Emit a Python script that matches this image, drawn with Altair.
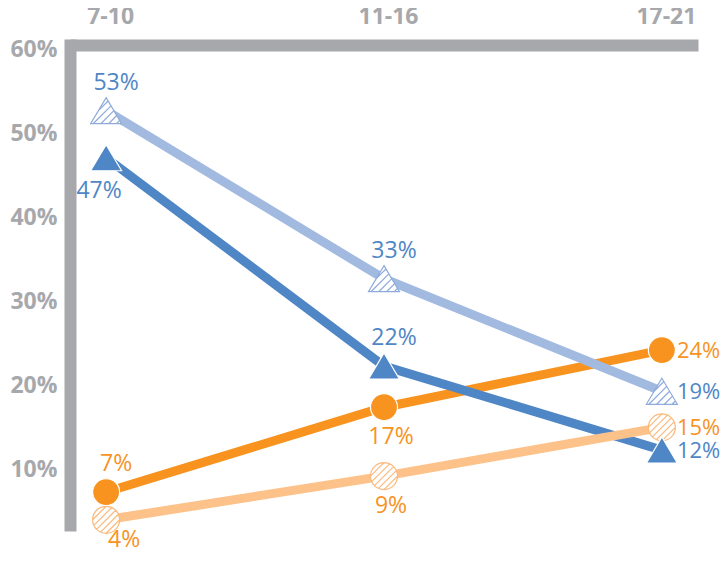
import math
import altair as alt
import pandas as pd

# ---------------- data ----------------
categories = ["7-10", "11-16", "17-21"]
series_names = ["Orange solid", "Blue solid", "Orange hatched", "Blue hatched"]
orange_solid = [0.073, 0.174, 0.242]
blue_solid = [0.471, 0.223, 0.123]
orange_hatched = [0.040, 0.092, 0.150]
blue_hatched = [0.527, 0.327, 0.193]
label_place = {
    "Orange solid": ["above", "below", "right"],
    "Blue solid": ["belowleft", "above", "right"],
    "Orange hatched": ["bottom", "below", "right"],
    "Blue hatched": ["above", "above", "right"],
}
y_ticks = [0.1, 0.2, 0.3, 0.4, 0.5, 0.6]

values = {
    "Orange solid": orange_solid,
    "Blue solid": blue_solid,
    "Orange hatched": orange_hatched,
    "Blue hatched": blue_hatched,
}
rows = []
for s in series_names:
    for c, v, p in zip(categories, values[s], label_place[s]):
        rows.append({"series": s, "cat": c, "value": v, "pos": p})
df = pd.DataFrame(rows)

# ---------------- style ----------------
GRAY = "#a7a8ac"
ORANGE = "#f7931e"
BLUE = "#4f86c6"
LORANGE = "#fdc28a"
LBLUE = "#a2bae0"
HATCH_BLUE = "#8eabdc"
HATCH_ORANGE = "#fbb97c"
TEXT_BLUE = "#4f86c6"
TEXT_ORANGE = "#f7931e"
FONT = "Open Sans"


def hatch_segments(poly, cs):
    segs = []
    for c in cs:
        pts = []
        n = len(poly)
        for i in range(n):
            (x1, y1), (x2, y2) = poly[i], poly[(i + 1) % n]
            f1, f2 = x1 + y1 - c, x2 + y2 - c
            if (f1 <= 0 < f2) or (f2 <= 0 < f1):
                t = f1 / (f1 - f2)
                pts.append((x1 + t * (x2 - x1), y1 + t * (y2 - y1)))
        if len(pts) == 2:
            (a, b), (d, e) = pts
            segs.append(f"M{a:.3f},{b:.3f}L{d:.3f},{e:.3f}")
    return "".join(segs)


TRI = [(0.0, -0.84), (1.0, 0.84), (-1.0, 0.84)]
tri_path = "M0,-0.84L1,0.84L-1,0.84Z"
tri_hatch = tri_path + hatch_segments(TRI, [-0.5, 0.0, 0.5, 1.0, 1.5])

circ_path = "M-1,0A1,1,0,1,1,1,0A1,1,0,1,1,-1,0Z"
circ_poly = [(math.cos(2 * math.pi * k / 90), math.sin(2 * math.pi * k / 90)) for k in range(90)]
circ_hatch = circ_path + hatch_segments(circ_poly, [-1.0, -0.5, 0.0, 0.5, 1.0])

TRI_SIZE = 961
CIRC_SIZE = 729

x_enc = alt.X(
    "cat:N",
    sort=categories,
    scale=alt.Scale(type="point", padding=0.13),
    axis=alt.Axis(
        orient="top", title=None, ticks=False, tickSize=0, grid=False,
        domainWidth=12, domainColor=GRAY, labelAngle=0, labelPadding=17,
        labelOffset=4, labelFont=FONT, labelFontWeight="bold",
        labelFontSize=23, labelColor=GRAY,
    ),
)
y_enc = alt.Y(
    "value:Q",
    scale=alt.Scale(domain=[0.0338, 0.6052], nice=False, zero=False),
    axis=alt.Axis(
        values=y_ticks, format=".0%", title=None, ticks=False, tickSize=0,
        grid=False, domainWidth=12, domainColor=GRAY, domainCap="square",
        labelPadding=13, labelFont=FONT, labelFontWeight="bold",
        labelFontSize=23, labelColor=GRAY,
    ),
)

base = alt.Chart(df).encode(x=x_enc, y=y_enc)

line_colors = {
    "Orange solid": ORANGE,
    "Blue solid": BLUE,
    "Orange hatched": LORANGE,
    "Blue hatched": LBLUE,
}
layers = []
for s in ["Orange solid", "Blue solid", "Orange hatched", "Blue hatched"]:
    layers.append(
        base.transform_filter(alt.datum.series == s).mark_line(
            strokeWidth=9, color=line_colors[s], strokeCap="butt"
        )
    )

# markers
layers.append(
    base.transform_filter(alt.datum.series == "Orange hatched").mark_point(
        shape=circ_hatch, size=CIRC_SIZE, filled=True, fill="white",
        stroke=HATCH_ORANGE, strokeWidth=1.2, opacity=1,
    )
)
layers.append(
    base.transform_filter(alt.datum.series == "Blue hatched").mark_point(
        shape=tri_hatch, size=TRI_SIZE, filled=True, fill="white",
        stroke=HATCH_BLUE, strokeWidth=1.2, opacity=1,
    )
)
layers.append(
    base.transform_filter(alt.datum.series == "Orange solid").mark_point(
        shape=circ_path, size=CIRC_SIZE, filled=True, fill=ORANGE,
        stroke="white", strokeWidth=1.2, opacity=1,
    )
)
layers.append(
    base.transform_filter(alt.datum.series == "Blue solid").mark_point(
        shape=tri_path, size=TRI_SIZE, filled=True, fill=BLUE,
        stroke="white", strokeWidth=1.2, opacity=1,
    )
)

text_color = alt.Color(
    "series:N",
    scale=alt.Scale(
        domain=series_names,
        range=[TEXT_ORANGE, TEXT_BLUE, TEXT_ORANGE, TEXT_BLUE],
    ),
    legend=None,
)
placements = {
    "above": dict(dx=10, dy=-28, align="center", fontSize=23),
    "below": dict(dx=7, dy=30, align="center", fontSize=23),
    "bottom": dict(dx=18, dy=20, align="center", fontSize=23),
    "belowleft": dict(dx=-7, dy=33, align="center", fontSize=23),
    "right": dict(dx=15, dy=1, align="left", fontSize=22),
}
for p, kw in placements.items():
    layers.append(
        base.transform_filter(alt.datum.pos == p)
        .mark_text(font=FONT, baseline="middle", **kw)
        .encode(text=alt.Text("value:Q", format=".0%"), color=text_color)
    )

chart = (
    alt.layer(*layers)
    .properties(
        width=628,
        height=480,
        autosize=alt.AutoSizeParams(type="none"),
        padding={"left": 62, "top": 37, "right": 22, "bottom": 25},
    )
    .configure_view(stroke=None)
)

chart.save("out.html", embed_options={"renderer": "svg", "actions": False})
